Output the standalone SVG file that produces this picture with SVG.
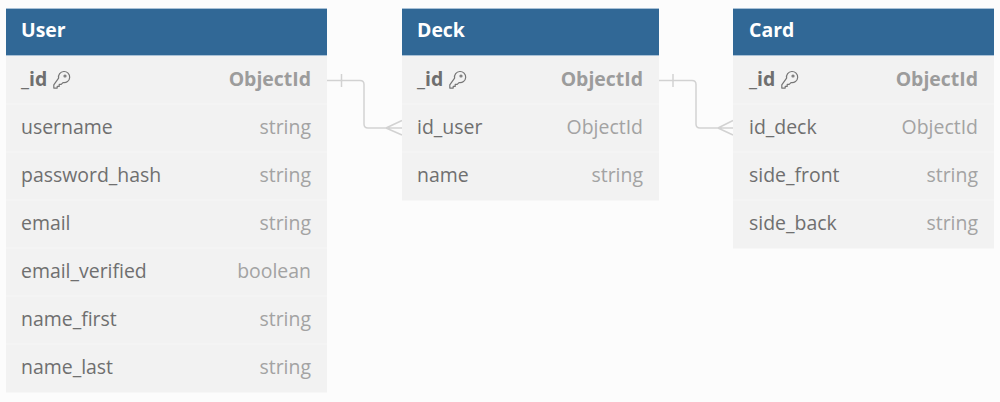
<svg xmlns="http://www.w3.org/2000/svg" width="1000" height="402" viewBox="0 0 1000 402">
<style>
text{font-family:"Open Sans","Noto Sans","Liberation Sans",sans-serif;font-size:19.450px}
.bg{fill:#f2f2f2}
.hd{fill:#316896}
.hl{stroke:#a9c1d6;stroke-width:1;fill:none}
.t{fill:#fff;font-weight:700}
.n{fill:#6f6f6f}
.p{fill:#6f6f6f;font-weight:700}
.ty{fill:#a3a3a3;text-anchor:end}
.pt{fill:#9c9c9c;font-weight:700;text-anchor:end}
.sep{stroke:#f6f6f6;stroke-width:1}
.c{fill:none;stroke:#d2d2d2;stroke-width:1.5;stroke-linejoin:round}
.k{fill:none;stroke:#767676;stroke-width:1.2;stroke-linecap:round;stroke-linejoin:round}
</style>
<defs>
<g id="key"><path class="k" d="M6.600 8.200a5.600 5.600 0 1 1 4.400 4.400l-1.800 1.800h-2v2h-2v1.700h-3.400v-3.200z"/><circle class="k" cx="13" cy="6" r="1"/></g>
</defs>
<rect width="1000" height="402" fill="#fcfcfc"/>
<g id="connectors">
<path class="c" d="M327 80.500H360Q364 80.500 364 84.500V124Q364 128 368 128H402M341.500 74V87M386 128L402 120.500M386 128L402 135"/>
<path class="c" d="M659 80.500H692Q696 80.500 696 84.500V124Q696 128 700 128H733M673 74V87M718 128L733 120.500M718 128L733 135"/>
</g>
<g id="user">
<rect class="bg" x="6" y="8" width="321" height="384.500"/>
<rect class="hd" x="6" y="8" width="321" height="48"/>
<path class="hl" d="M6 8.500H327M6 55.500H327"/>
<text class="t" x="21" y="36.500">User</text>
<text class="p" x="21" y="85.500">_id</text><use href="#key" x="52" y="70"/><text class="pt" x="311" y="85.500">ObjectId</text>
<line class="sep" x1="6" y1="104" x2="327" y2="104"/>
<text class="n" x="21" y="133.500">username</text><text class="ty" x="311" y="133.500">string</text>
<line class="sep" x1="6" y1="152" x2="327" y2="152"/>
<text class="n" x="21" y="181.500">password_hash</text><text class="ty" x="311" y="181.500">string</text>
<line class="sep" x1="6" y1="200" x2="327" y2="200"/>
<text class="n" x="21" y="229.500">email</text><text class="ty" x="311" y="229.500">string</text>
<line class="sep" x1="6" y1="248" x2="327" y2="248"/>
<text class="n" x="21" y="277.500">email_verified</text><text class="ty" x="311" y="277.500">boolean</text>
<line class="sep" x1="6" y1="296" x2="327" y2="296"/>
<text class="n" x="21" y="325.500">name_first</text><text class="ty" x="311" y="325.500">string</text>
<line class="sep" x1="6" y1="344" x2="327" y2="344"/>
<text class="n" x="21" y="373.500">name_last</text><text class="ty" x="311" y="373.500">string</text>
</g>
<g id="deck">
<rect class="bg" x="402" y="8" width="257" height="192.500"/>
<rect class="hd" x="402" y="8" width="257" height="48"/>
<path class="hl" d="M402 8.500H659M402 55.500H659"/>
<text class="t" x="417" y="36.500">Deck</text>
<text class="p" x="417" y="85.500">_id</text><use href="#key" x="448" y="70"/><text class="pt" x="643" y="85.500">ObjectId</text>
<line class="sep" x1="402" y1="104" x2="659" y2="104"/>
<text class="n" x="417" y="133.500">id_user</text><text class="ty" x="643" y="133.500">ObjectId</text>
<line class="sep" x1="402" y1="152" x2="659" y2="152"/>
<text class="n" x="417" y="181.500">name</text><text class="ty" x="643" y="181.500">string</text>
</g>
<g id="card">
<rect class="bg" x="733" y="8" width="261" height="240.500"/>
<rect class="hd" x="733" y="8" width="261" height="48"/>
<path class="hl" d="M733 8.500H994M733 55.500H994"/>
<text class="t" x="749" y="36.500">Card</text>
<text class="p" x="749" y="85.500">_id</text><use href="#key" x="780" y="70"/><text class="pt" x="978" y="85.500">ObjectId</text>
<line class="sep" x1="733" y1="104" x2="994" y2="104"/>
<text class="n" x="749" y="133.500">id_deck</text><text class="ty" x="978" y="133.500">ObjectId</text>
<line class="sep" x1="733" y1="152" x2="994" y2="152"/>
<text class="n" x="749" y="181.500">side_front</text><text class="ty" x="978" y="181.500">string</text>
<line class="sep" x1="733" y1="200" x2="994" y2="200"/>
<text class="n" x="749" y="229.500">side_back</text><text class="ty" x="978" y="229.500">string</text>
</g>
</svg>
